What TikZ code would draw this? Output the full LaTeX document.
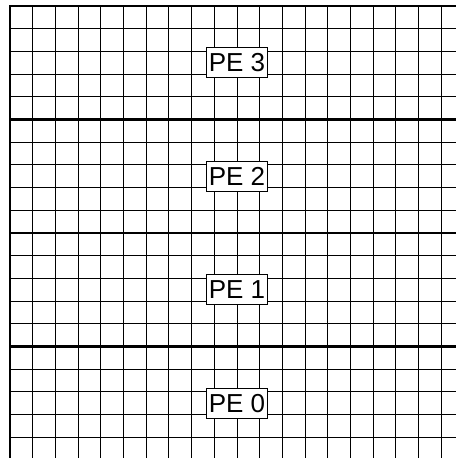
\documentclass[tikz,border=0pt]{standalone}
\usepackage{fontspec}
\setmainfont{Liberation Sans}
\usetikzlibrary{positioning}

\begin{document}
\begin{tikzpicture}[
  x=0.5cm, y=0.5cm,
  pegrid/.style={line width=0.5pt, black},
  pebox/.style={line width=1.4pt},
  pelabel/.style={draw, fill=white, line width=0.5pt, inner xsep=1.6pt, inner ysep=0pt, minimum height=0.66cm, font=\fontsize{16.3}{18}\selectfont}
]
\useasboundingbox (-0.44,0.088) rectangle (19.648,20.264);
\clip (-0.44,0.088) rectangle (19.648,20.264);
% cells of the four PEs
\draw[pegrid, step=1] (0,0) grid (20,20);
\draw[pebox] (0,0) rectangle (20,5);
\draw[pebox] (0,5) rectangle (20,10);
\draw[pebox] (0,10) rectangle (20,15);
\draw[pebox] (0,15) rectangle (20,20);
% labels
\node[pelabel] (pe0) at (10,2.5) {PE 0};
\node[pelabel] (pe1) at (10,7.5) {PE 1};
\node[pelabel] (pe2) at (10,12.5) {PE 2};
\node[pelabel] (pe3) at (10,17.5) {PE 3};
\end{tikzpicture}
\end{document}
